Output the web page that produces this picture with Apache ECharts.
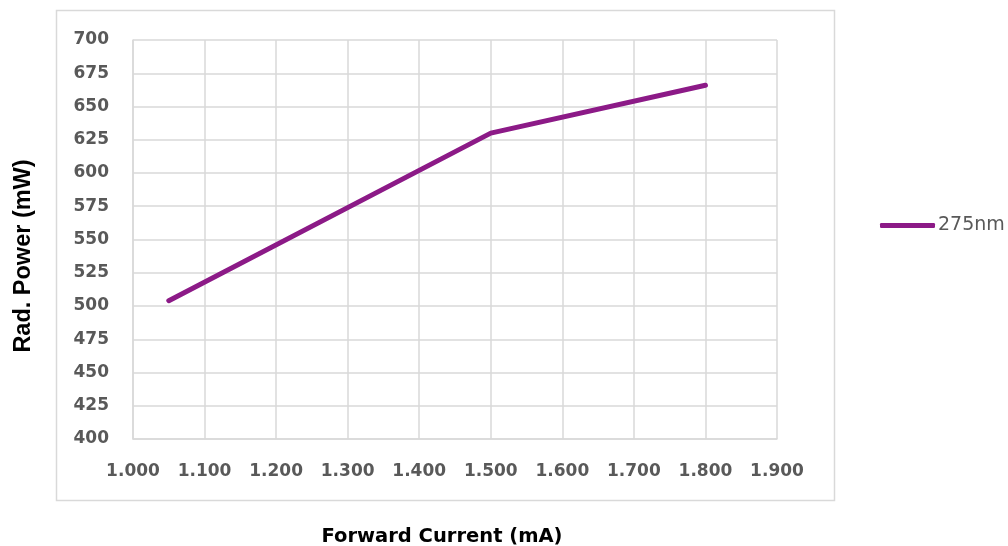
<!DOCTYPE html>
<html><head><meta charset="utf-8">
<script src="https://cdn.jsdelivr.net/npm/echarts@6/dist/echarts.min.js"></script>
<style>html,body{margin:0;padding:0;background:#fff}#c{width:1008px;height:546px}</style>
</head><body><div id="c"></div>
<script>
const seriesName = '275nm';
const current = [1.05, 1.5, 1.8];
const power = [504, 630, 666];
const xTicks = ['1.000','1.100','1.200','1.300','1.400','1.500','1.600','1.700','1.800','1.900'];
const yTicks = [400,425,450,475,500,525,550,575,600,625,650,675,700];
const xTitle = 'Forward Current (mA)';
const yTitle = 'Rad. Power (mW)';

const chart = echarts.init(document.getElementById('c'));
const labelFont = "'DejaVu Sans', sans-serif";
chart.setOption({
  animation: false,
  graphic: [{
    type: 'rect', shape: {x: 56.5, y: 10.5, width: 778, height: 490},
    style: {fill: 'none', stroke: '#d9d9d9', lineWidth: 1.5}, z: -1
  }, {
    type: 'text', x: 24, y: 256, rotation: Math.PI / 2,
    style: {text: yTitle, fill: '#000', fontSize: 23.5, fontWeight: 'bold',
      fontFamily: "'Liberation Sans', sans-serif", align: 'center', verticalAlign: 'middle'}
  }, {
    type: 'text', x: 442, y: 537,
    style: {text: xTitle, fill: '#000', fontSize: 19.5, fontWeight: 'bold',
      fontFamily: labelFont, align: 'center', verticalAlign: 'middle'}
  }],
  legend: {
    left: 875, top: 211, orient: 'vertical',
    itemWidth: 55, itemHeight: 5, itemGap: 4,
    textStyle: {color: '#595959', fontSize: 19, fontFamily: labelFont, padding: [0,0,0,-2]},
    data: [{name: seriesName, icon: 'roundRect'}]
  },
  grid: {left: 133, top: 40, right: 1008 - 777, bottom: 546 - 439, containLabel: false, outerBoundsMode: 'none'},
  xAxis: {
    type: 'value', min: 1.0, max: 1.9, interval: 0.1,
    axisLine: {show: true, lineStyle: {color: '#d9d9d9', width: 1.5}},
    axisTick: {show: false},
    splitLine: {show: true, lineStyle: {color: '#d9d9d9', width: 1.5}},
    axisLabel: {
      color: '#595959', fontSize: 17, fontWeight: 'bold', fontFamily: labelFont, margin: 24,
      formatter: (v) => { const i = Math.round((v - 1.0) / 0.1); return xTicks[i] !== undefined ? xTicks[i] : ''; }
    }
  },
  yAxis: {
    type: 'value', min: 400, max: 700, interval: 25,
    axisLine: {show: true, lineStyle: {color: '#d9d9d9', width: 1.5}},
    axisTick: {show: false},
    splitLine: {show: true, lineStyle: {color: '#d9d9d9', width: 1.5}},
    axisLabel: {
      color: '#595959', fontSize: 17, fontWeight: 'bold', fontFamily: labelFont, margin: 24,
      formatter: (v) => yTicks.includes(v) ? String(v) : ''
    }
  },
  series: [{
    name: seriesName, type: 'line',
    data: current.map((x, i) => [x, power[i]]),
    showSymbol: false, symbol: 'none',
    lineStyle: {color: '#8c1a87', width: 5, cap: 'round', join: 'round'},
    itemStyle: {color: '#8c1a87'}
  }]
});
</script></body></html>
